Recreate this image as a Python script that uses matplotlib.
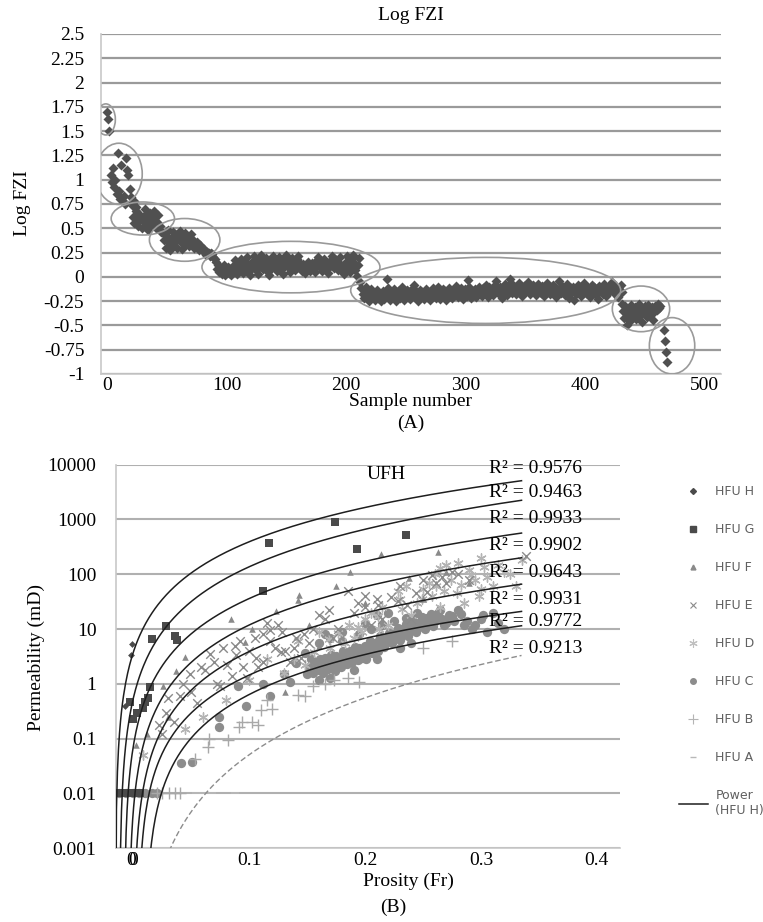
import numpy as np
import matplotlib
matplotlib.use("Agg")
from matplotlib import pyplot as plt
from matplotlib.patches import Ellipse
from matplotlib.lines import Line2D

plt.rcParams['font.family'] = ['Liberation Serif', 'DejaVu Serif']

# ---------------- (A) Log FZI vs sample number ----------------
# each group: first sample number, then consecutive Log FZI values
grp_start = [0, 3, 22, 47, 91, 212, 431, 466]
grp_values = [
    [1.70, 1.62, 1.50],
    [1.05, 0.98, 1.12, 0.92, 1.00, 0.85, 1.27, 0.88, 0.80, 1.15, 0.78, 0.83, 0.75,
     1.22, 1.10, 1.05, 0.90, 0.82, 0.76, 0.73, 0.78, 0.72],
    [0.62, 0.55, 0.68, 0.58, 0.52, 0.65, 0.60, 0.50, 0.57, 0.63, 0.70, 0.55, 0.48,
     0.60, 0.66, 0.53, 0.58, 0.68, 0.62, 0.50, 0.56, 0.64, 0.52, 0.46],
    [0.45, 0.38, 0.30, 0.42, 0.48, 0.35, 0.28, 0.40, 0.46, 0.33, 0.44, 0.38, 0.30,
     0.42, 0.47, 0.36, 0.29, 0.40, 0.45, 0.34, 0.41, 0.37, 0.32, 0.44, 0.39, 0.35,
     0.30, 0.33, 0.36, 0.31, 0.28, 0.33, 0.30, 0.27, 0.29, 0.25, 0.22, 0.26, 0.24,
     0.21, 0.25, 0.23, 0.20, 0.18],
    [0.15, 0.08, 0.12, 0.05, 0.10, 0.03, 0.07, 0.12, 0.02, 0.06,
     0.10, 0.04, 0.08, 0.02, 0.05, 0.12, 0.17, 0.09, 0.03, 0.07,
     0.13, 0.18, 0.10, 0.04, 0.08, 0.15, 0.20, 0.12, 0.06, 0.02,
     0.09, 0.16, 0.21, 0.14, 0.07, 0.03, 0.10, 0.18, 0.22, 0.15,
     0.08, 0.12, 0.19, 0.13, 0.05, 0.02, 0.09, 0.16, 0.21, 0.17,
     0.11, 0.06, 0.13, 0.20, 0.14, 0.08, 0.03, 0.10, 0.17, 0.22,
     0.16, 0.09, 0.05, 0.12, 0.19, 0.13, 0.07, 0.11, 0.18, 0.21,
     0.15, 0.10, 0.06, 0.13, 0.08, 0.04, 0.09, 0.15, 0.11, 0.06,
     0.10, 0.14, 0.08, 0.05, 0.11, 0.17, 0.20, 0.14, 0.09, 0.06,
     0.12, 0.18, 0.13, 0.08, 0.04, 0.10, 0.16, 0.21, 0.15, 0.09,
     0.18, 0.12, 0.07, 0.14, 0.20, 0.11, 0.06, 0.03, 0.08, 0.15,
     0.21, 0.12, 0.05, 0.10, 0.18, 0.22, 0.14, 0.07, 0.01, 0.12, 0.19],
    [-0.05, -0.12, -0.18, -0.22, -0.15, -0.10, -0.20, -0.25, -0.17, -0.13,
     -0.21, -0.16, -0.24, -0.19, -0.14, -0.22, -0.18, -0.25, -0.20, -0.15,
     -0.23, -0.17, -0.02, -0.12, -0.19, -0.24, -0.16, -0.21, -0.13, -0.18,
     -0.25, -0.20, -0.15, -0.22, -0.17, -0.11, -0.19, -0.24, -0.18, -0.14,
     -0.21, -0.16, -0.23, -0.19, -0.12, -0.08, -0.17, -0.22, -0.25, -0.18,
     -0.14, -0.20, -0.16, -0.23, -0.19, -0.13, -0.21, -0.17, -0.24, -0.15,
     -0.20, -0.12, -0.18, -0.22, -0.16, -0.10, -0.19, -0.23, -0.17, -0.13,
     -0.21, -0.15, -0.24, -0.18, -0.12, -0.20, -0.16, -0.22, -0.14, -0.19,
     -0.09, -0.15, -0.21, -0.17, -0.12, -0.19, -0.23, -0.16, -0.13, -0.20,
     -0.03, -0.11, -0.17, -0.22, -0.15, -0.19, -0.13, -0.21, -0.16, -0.10,
     -0.18, -0.14, -0.20, -0.12, -0.17, -0.08, -0.15, -0.21, -0.11, -0.16,
     -0.13, -0.19, -0.09, -0.15, -0.04, -0.12, -0.18, -0.10, -0.16, -0.22,
     -0.11, -0.07, -0.14, -0.19, -0.09, -0.02, -0.13, -0.17, -0.08, -0.12,
     -0.18, -0.10, -0.15, -0.06, -0.12, -0.20, -0.14, -0.09, -0.16, -0.11,
     -0.05, -0.13, -0.18, -0.10, -0.15, -0.08, -0.12, -0.19, -0.14, -0.07,
     -0.11, -0.17, -0.09, -0.14, -0.20, -0.12, -0.06, -0.15, -0.10, -0.18,
     -0.13, -0.08, -0.16, -0.11, -0.21, -0.14, -0.04, -0.12, -0.17, -0.09,
     -0.15, -0.19, -0.11, -0.07, -0.14, -0.22, -0.12, -0.16, -0.10, -0.24,
     -0.13, -0.18, -0.08, -0.15, -0.11, -0.20, -0.14, -0.06, -0.12, -0.17,
     -0.10, -0.15, -0.21, -0.13, -0.08, -0.16, -0.11, -0.19, -0.14, -0.23,
     -0.09, -0.15, -0.12, -0.18, -0.07, -0.13, -0.20, -0.11, -0.16, -0.10,
     -0.14, -0.05, -0.12, -0.18, -0.10, -0.15, -0.21, -0.13, -0.08, -0.16],
    [-0.28, -0.35, -0.42, -0.30, -0.50, -0.38, -0.33, -0.45, -0.29, -0.40, -0.36,
     -0.31, -0.43, -0.34, -0.28, -0.39, -0.32, -0.46, -0.37, -0.30, -0.35, -0.41,
     -0.29, -0.33, -0.38, -0.31, -0.44, -0.36, -0.30, -0.34, -0.28, -0.32, -0.30],
    [-0.55, -0.66, -0.77, -0.88],
]

# circled groups: centre (sample, value), width, height
ell_x = [-1, 10, 30, 65, 154, 317, 447, 473]
ell_y = [1.62, 1.06, 0.60, 0.38, 0.10, -0.14, -0.33, -0.71]
ell_w = [16, 39, 53, 59, 149, 226, 48, 38]
ell_h = [0.32, 0.63, 0.34, 0.44, 0.53, 0.68, 0.47, 0.58]

fzi_ticks = [-1, -0.75, -0.5, -0.25, 0, 0.25, 0.5, 0.75, 1, 1.25, 1.5, 1.75, 2, 2.25, 2.5]
fzi_ticklabels = ['-1', '-0.75', '-0.5', '-0.25', '0', '0.25', '0.5', '0.75', '1',
                  '1.25', '1.5', '1.75', '2', '2.25', '2.5']
sample_ticks = [0, 100, 200, 300, 400, 500]

# ---------------- (B) permeability vs porosity ----------------
units = ['HFU H', 'HFU G', 'HFU F', 'HFU E', 'HFU D', 'HFU C', 'HFU B', 'HFU A']

phi_H = [-0.001, -0.002, -0.007]
k_H = [5.3, 3.4, 0.39]

phi_G = [0.174, 0.235, 0.117, 0.193, 0.112, 0.028, 0.036, 0.038, 0.016, 0.014, 0.013,
         -0.003, 0.008, 0.003, 0.000, 0.010, -0.014, -0.011, -0.008, -0.005, -0.002,
         0.002, 0.006]
k_G = [900, 515, 365, 295, 50, 11.5, 7.6, 6.4, 6.6, 0.89, 0.56,
       0.46, 0.37, 0.30, 0.23, 0.46, 0.01, 0.01, 0.01, 0.01, 0.01,
       0.01, 0.01]

phi_F = [0.084, 0.123, 0.142, 0.143, 0.187, 0.214, 0.263, 0.045, 0.037, 0.026, 0.012,
         0.002, 0.131, 0.096, 0.102, 0.152, 0.160, 0.250, 0.290, 0.270, 0.200, 0.030,
         0.238, 0.175]
k_F = [15, 21, 34, 42, 110, 230, 260, 3.1, 1.7, 0.9, 0.12,
       0.078, 0.7, 5.8, 10, 12, 5, 35, 70, 110, 30, 0.25,
       85, 60]

phi_E = [0.185, 0.169, 0.194, 0.200, 0.125, 0.112, 0.088, 0.077, 0.066, 0.058, 0.043,
         0.030, 0.028, 0.022, 0.089, 0.095, 0.112, 0.127, 0.139, 0.152, 0.177, 0.228,
         0.244, 0.261, 0.266, 0.253, 0.236, 0.211, 0.072, 0.049, 0.339, 0.105, 0.118,
         0.131, 0.147, 0.098, 0.081, 0.062, 0.050, 0.035, 0.275, 0.290, 0.258, 0.222,
         0.160, 0.118, 0.106, 0.135, 0.215, 0.205,
         0.070, 0.075, 0.085, 0.092, 0.100, 0.108, 0.115, 0.122, 0.128, 0.140, 0.145,
         0.155, 0.165, 0.172, 0.190, 0.200, 0.210, 0.230, 0.250, 0.270, 0.280, 0.240,
         0.055, 0.040, 0.025]
k_E = [50, 22, 30, 25, 12, 8, 5, 4.5, 3.5, 2.0, 1.0,
       0.55, 0.30, 0.18, 3.3, 2.0, 2.5, 3.8, 4.5, 5.5, 10, 33,
       45, 70, 90, 48, 28, 27, 1.0, 1.5, 220, 7, 6,
       4, 8, 1.3, 2.2, 1.8, 0.7, 0.2, 110, 80, 95, 38,
       18, 9.5, 3, 2.5, 15, 12,
       2.5, 0.9, 1.4, 6, 4, 2, 13, 4.5, 9, 7, 3,
       10, 15, 7, 20, 40, 35, 60, 80, 70, 100, 15,
       0.45, 0.6, 0.12]

phi_D = [0.291, 0.303, 0.274, 0.261, 0.279, 0.249, 0.232, 0.211, 0.200, 0.194, 0.177,
         0.169, 0.156, 0.139, 0.310, 0.320, 0.285, 0.265, 0.240, 0.220, 0.190, 0.170,
         0.148, 0.130, 0.115, 0.100, 0.335, 0.300, 0.270, 0.245, 0.298, 0.258, 0.212,
         0.183, 0.160, 0.142, 0.080, 0.060, 0.045, 0.008, 0.260, 0.228,
         0.250, 0.255, 0.268, 0.283, 0.290, 0.295, 0.305, 0.315, 0.325, 0.230, 0.235,
         0.215, 0.205, 0.197, 0.186, 0.265, 0.280, 0.330, 0.300]
k_D = [95, 135, 80, 60, 45, 35, 23, 17, 15, 11, 8.5,
       6.5, 3.8, 2.9, 60, 110, 30, 25, 18, 12, 7, 4.5,
       2.2, 1.6, 2.8, 1.2, 180, 200, 150, 30, 40, 40, 10,
       5.5, 9, 6, 0.5, 0.25, 0.15, 0.05, 100, 50,
       55, 70, 50, 65, 120, 80, 90, 150, 100, 35, 60,
       25, 20, 9, 12, 130, 160, 60, 55]

phi_C = [0.148, 0.152, 0.155, 0.158, 0.160, 0.163, 0.165, 0.168, 0.170, 0.172, 0.175,
         0.177, 0.180, 0.182, 0.185, 0.187, 0.190, 0.192, 0.195, 0.197, 0.200, 0.202,
         0.205, 0.207, 0.210, 0.212, 0.214, 0.217, 0.219, 0.222, 0.224, 0.226, 0.229,
         0.231, 0.233, 0.236, 0.238, 0.240, 0.243, 0.245, 0.248, 0.250, 0.253, 0.255,
         0.258, 0.260, 0.263, 0.266, 0.270, 0.275, 0.280, 0.285, 0.292, 0.300, 0.305,
         0.310, 0.195, 0.205, 0.215, 0.225, 0.235, 0.245, 0.180, 0.190, 0.210, 0.170,
         0.160, 0.230, 0.240, 0.112, 0.118, 0.097, 0.074, 0.074, 0.051, 0.041, 0.130,
         0.135, 0.165, 0.140, 0.090, -0.012, -0.006, 0.000, 0.005, 0.010, 0.016, 0.020,
         0.150, 0.153, 0.157, 0.161, 0.164, 0.167, 0.171, 0.174, 0.176, 0.179, 0.181,
         0.184, 0.186, 0.189, 0.191, 0.194, 0.196, 0.199, 0.201, 0.204, 0.206, 0.209,
         0.211, 0.213, 0.216, 0.218, 0.221, 0.223, 0.225, 0.228, 0.230, 0.232, 0.235,
         0.237, 0.239, 0.242, 0.244, 0.247, 0.249, 0.252, 0.254, 0.257, 0.259, 0.262,
         0.265, 0.268, 0.272, 0.277, 0.283, 0.288, 0.295, 0.302, 0.315, 0.320, 0.180,
         0.200, 0.210, 0.220, 0.160, 0.170]
k_C = [3.6, 2.0, 1.6, 2.5, 1.8, 2.2, 3.0, 1.9, 2.6, 2.1, 3.2,
       2.4, 2.8, 3.5, 2.6, 4.0, 3.1, 3.6, 4.5, 3.0, 5.0, 3.8,
       4.2, 5.5, 4.6, 6.2, 5.0, 7.0, 5.8, 6.5, 8.0, 7.2, 9.0,
       7.6, 10, 8.5, 11, 9.5, 12, 10.5, 14, 11, 16, 13,
       18, 14, 20, 15, 13, 17, 22, 12, 10, 15, 9,
       20, 8, 10, 12, 14, 16, 20, 6, 1.8, 2.8, 1.3,
       1.2, 4.5, 5.5, 1.0, 0.6, 0.4, 0.25, 0.16, 0.037, 0.036, 1.5,
       1.1, 8, 2.4, 0.9, 0.01, 0.01, 0.01, 0.01, 0.01, 0.01, 0.01,
       1.5, 2.8, 1.9, 2.9, 1.6, 2.4, 3.4, 1.7, 2.9, 2.0, 3.9,
       2.3, 3.0, 2.5, 4.8, 2.7, 3.4, 4.0, 2.9, 6.0, 3.6, 5.2,
       3.9, 7.5, 4.8, 6.0, 8.5, 5.5, 6.8, 10.5, 6.2, 8.2, 12.5,
       7.5, 9.8, 13.5, 8.8, 11.5, 16.5, 10, 12.5, 19, 11.5, 15,
       22, 12, 18, 14, 19, 14, 12, 18, 13, 10, 9,
       13, 18, 20, 5.5, 7]

phi_B = [0.173, 0.142, 0.148, 0.110, 0.102, 0.091, 0.108, 0.082, 0.065, 0.064, 0.053,
         0.155, 0.165, 0.185, 0.195, 0.250, 0.275, 0.094, 0.115, 0.120,
         0.020, 0.025, 0.031, 0.036, 0.040]
k_B = [1.2, 0.62, 0.6, 0.33, 0.2, 0.16, 0.18, 0.095, 0.1, 0.07, 0.042,
       0.9, 1.0, 1.3, 1.1, 4.5, 6, 0.2, 0.5, 0.35,
       0.01, 0.01, 0.01, 0.01, 0.01]

phi_A = [0.054, 0.060, 0.068, 0.088, 0.224]
k_A = [0.01, 0.01, 0.01, 0.01, 1.0]

# power trend lines (H .. A): k = k_end * ((phi - phi0) / (phi_end - phi0)) ** b
trend_phi0 = [-0.0155, -0.012, -0.008, -0.004, 0.000, 0.004, 0.010, 0.000]
trend_exp = [2.31, 2.47, 2.38, 2.39, 2.34, 2.16, 2.25, 3.45]
trend_k_end = [5100, 2240, 565, 200, 66, 21, 11.5, 3.3]
trend_phi_end = 0.335
r2_text = ['0.9576', '0.9463', '0.9933', '0.9902', '0.9643', '0.9931', '0.9772', '0.9213']
r2_label_k = [8500, 3100, 1050, 330, 107, 35, 13.5, 4.5]

perm_ticks = [0.001, 0.01, 0.1, 1, 10, 100, 1000, 10000]
perm_ticklabels = ['0.001', '0.01', '0.1', '1', '10', '100', '1000', '10000']
phi_ticks = [0, 0.1, 0.2, 0.3, 0.4]

fig = plt.figure(figsize=(7.63, 9.22), dpi=100)

# ---------- top panel ----------
ax1 = fig.add_axes([0.1324, 0.5944, 0.8126, 0.3688])
for start, vals in zip(grp_start, grp_values):
    xs = start + np.arange(len(vals))
    ax1.scatter(xs, vals, marker='D', s=26, color='#505050', linewidths=0, zorder=3)
for cx, cy, w, h in zip(ell_x, ell_y, ell_w, ell_h):
    ax1.add_patch(Ellipse((cx, cy), w, h, fill=False, edgecolor='#9a9a9a', lw=1.2, zorder=4))
ax1.set_xlim(-5, 514)
ax1.set_ylim(-1, 2.5)
ax1.set_yticks(fzi_ticks)
ax1.set_yticklabels(fzi_ticklabels)
ax1.set_xticks(sample_ticks)
ax1.tick_params(length=0, labelsize=14)
ax1.tick_params(axis='y', pad=12)
ax1.tick_params(axis='x', pad=2)
ax1.grid(axis='y', color='#9a9a9a', lw=1.6)
ax1.set_axisbelow(True)
for s in ['top', 'right']:
    ax1.spines[s].set_visible(False)
for s in ['left', 'bottom']:
    ax1.spines[s].set_color('#c8c8c8')
    ax1.spines[s].set_linewidth(1.2)
ax1.set_title('Log FZI', fontsize=14, pad=10)
fig.text(0.029, 0.78, 'Log FZI', rotation=90, fontsize=14, ha='center', va='center')
fig.text(0.538, 0.564, 'Sample number', fontsize=14, ha='center', va='center')
fig.text(0.538, 0.5405, '(A)', fontsize=14, ha='center', va='center')

# ---------- bottom panel ----------
ax2 = fig.add_axes([0.152, 0.080, 0.6606, 0.4160])
ax2.set_yscale('log')

ax2.scatter(phi_C, k_C, marker='o', s=45, color='#8c8c8c', linewidths=0, zorder=3)
ax2.scatter(phi_D, k_D, marker=(6, 2, 0), s=45, color='#b4b4b4', linewidths=1.0, zorder=3)
ax2.scatter(phi_E, k_E, marker='x', s=38, color='#8a8a8a', linewidths=1.0, zorder=3)
ax2.scatter(phi_B, k_B, marker='+', s=80, color='#a8a8a8', linewidths=1.0, zorder=3)
ax2.scatter(phi_F, k_F, marker='^', s=22, color='#8a8a8a', linewidths=0, zorder=3)
ax2.scatter(phi_A, k_A, marker='_', s=30, color='#b8b8b8', linewidths=1.2, zorder=3)
ax2.scatter(phi_G, k_G, marker='s', s=36, color='#4a4a4a', linewidths=0, zorder=4)
ax2.scatter(phi_H, k_H, marker='D', s=12, color='#4a4a4a', linewidths=0, zorder=4)

for i in range(len(units)):
    p0 = trend_phi0[i]
    phi = np.linspace(p0 + 1e-5, trend_phi_end, 400)
    k = trend_k_end[i] * ((phi - p0) / (trend_phi_end - p0)) ** trend_exp[i]
    if i == len(units) - 1:
        ax2.plot(phi, k, color='#8c8c8c', lw=1.0, ls=(0, (4, 2)), zorder=5)
    else:
        ax2.plot(phi, k, color='#1e1e1e', lw=1.1, zorder=5)
    ax2.text(0.307, r2_label_k[i], 'R² = ' + r2_text[i], fontsize=14,
             ha='left', va='center', zorder=6)

ax2.text(0.218, 6500, 'UFH', fontsize=14, ha='center', va='center')
ax2.set_xlim(-0.015, 0.42)
ax2.set_ylim(0.001, 10000)
ax2.set_yticks(perm_ticks)
ax2.set_yticklabels(perm_ticklabels)
ax2.minorticks_off()
ax2.set_xticks(phi_ticks)
ax2.set_xticklabels(['0', '0.1', '0.2', '0.3', '0.4'])
ax2.set_xticks([-0.0015], minor=True)
ax2.set_xticklabels(['0'], minor=True)
ax2.tick_params(which='both', length=0, labelsize=14)
ax2.tick_params(axis='y', pad=14)
ax2.tick_params(axis='x', which='both', pad=3)
ax2.grid(axis='y', which='major', color='#b0b0b0', lw=1.5)
ax2.set_axisbelow(True)
for s in ['top', 'right']:
    ax2.spines[s].set_visible(False)
for s in ['left', 'bottom']:
    ax2.spines[s].set_color('#c8c8c8')
    ax2.spines[s].set_linewidth(1.2)
fig.text(0.047, 0.287, 'Permeability (mD)', rotation=90, fontsize=14,
         ha='center', va='center')
fig.text(0.535, 0.044, 'Prosity (Fr)', fontsize=14, ha='center', va='center')
fig.text(0.515, 0.016, '(B)', fontsize=14, ha='center', va='center')

# legend at right
handles = [
    Line2D([], [], ls='', marker='D', ms=3, color='#4a4a4a'),
    Line2D([], [], ls='', marker='s', ms=5, color='#4a4a4a'),
    Line2D([], [], ls='', marker='^', ms=3.5, color='#8a8a8a'),
    Line2D([], [], ls='', marker='x', ms=5, mew=0.8, color='#8a8a8a'),
    Line2D([], [], ls='', marker=(6, 2, 0), ms=6, mew=0.8, color='#c0c0c0'),
    Line2D([], [], ls='', marker='o', ms=4, color='#8c8c8c'),
    Line2D([], [], ls='', marker='+', ms=7, mew=0.8, color='#b4b4b4'),
    Line2D([], [], ls='', marker='_', ms=5, mew=1, color='#b8b8b8'),
    Line2D([], [], color='#1e1e1e', lw=1.1),
]
labels = units + ['Power\n(HFU H)']
fig.legend(handles, labels, loc='upper left', bbox_to_anchor=(0.890, 0.474),
           frameon=False, prop={'family': 'DejaVu Sans', 'size': 9},
           labelcolor='#606060', labelspacing=2.0, handlelength=2.3,
           handletextpad=0.6, borderpad=0, borderaxespad=0)

fig.savefig('out.png', dpi=100)
